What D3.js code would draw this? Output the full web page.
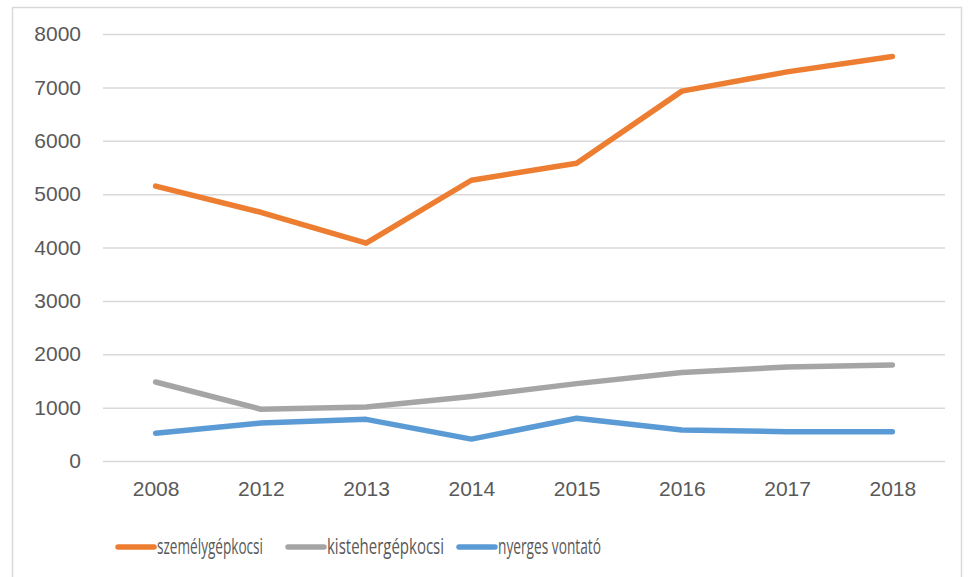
<!DOCTYPE html>
<html>
<head>
<meta charset="utf-8">
<script src="https://cdn.jsdelivr.net/npm/d3@7"></script>
<style>
  body { margin: 0; background: #fff; }
  svg { font-family: "Open Sans", "Liberation Sans", sans-serif; }
</style>
</head>
<body>
<svg width="971" height="577"></svg>
<script>
var years = ["2008", "2012", "2013", "2014", "2015", "2016", "2017", "2018"];
var szemely = [5150, 4660, 4080, 5260, 5580, 6930, 7290, 7580];
var kisteher = [1480, 970, 1010, 1210, 1450, 1660, 1760, 1800];
var nyerges = [520, 710, 780, 410, 800, 580, 550, 550];
var yTicks = [0, 1000, 2000, 3000, 4000, 5000, 6000, 7000, 8000];

var series = [
    {name: "személygépkocsi", values: szemely, color: "#ED7D31"},
    {name: "kistehergépkocsi", values: kisteher, color: "#A5A5A5"},
    {name: "nyerges vontató", values: nyerges, color: "#5B9BD5"}
];

var svg = d3.select("svg");

// frame
svg.append("rect")
    .attr("x", 12.5).attr("y", 7.5)
    .attr("width", 949).attr("height", 600)
    .attr("fill", "none")
    .attr("stroke", "#d9d9d9")
    .attr("stroke-width", 1.5);

var x = d3.scalePoint().domain(years).range([103, 945]).padding(0.5);
var y = d3.scaleLinear().domain([0, 8000]).range([461, 34]);

// gridlines
svg.append("g")
    .attr("transform", "translate(103,0)")
    .call(d3.axisLeft(y).tickValues(yTicks).tickSize(-842).tickFormat(""))
    .call(g => g.select(".domain").remove())
    .call(g => g.selectAll("line").attr("stroke", "#d9d9d9").attr("stroke-width", 1.5));

// y labels
svg.append("g")
    .attr("transform", "translate(103,0)")
    .call(d3.axisLeft(y).tickValues(yTicks).tickSize(0).tickPadding(22).tickFormat(d3.format("d")))
    .call(g => g.select(".domain").remove())
    .call(g => g.selectAll("text")
        .attr("fill", "#595959")
        .style("font-size", "21px"));

// x labels
svg.append("g")
    .attr("transform", "translate(0,461)")
    .call(d3.axisBottom(x).tickSize(0).tickPadding(20))
    .call(g => g.select(".domain").remove())
    .call(g => g.selectAll("text")
        .attr("fill", "#595959")
        .style("font-size", "21px"));

var line = d3.line()
    .x((d, i) => x(years[i]))
    .y(d => y(d));

svg.selectAll(".series")
    .data(series)
    .enter()
    .append("path")
    .attr("class", "series")
    .attr("d", d => line(d.values))
    .attr("fill", "none")
    .attr("stroke", d => d.color)
    .attr("stroke-width", 5.5)
    .attr("stroke-linecap", "round")
    .attr("stroke-linejoin", "round");

// legend
var legendX = [118, 288, 459];
var legendW = [106, 117, 103];
var lg = svg.selectAll(".legend")
    .data(series)
    .enter()
    .append("g")
    .attr("class", "legend")
    .attr("transform", (d, i) => "translate(" + legendX[i] + ",547)");

lg.append("line")
    .attr("x1", 0).attr("x2", 36)
    .attr("stroke", d => d.color)
    .attr("stroke-width", 5.5)
    .attr("stroke-linecap", "round");

lg.append("text")
    .attr("x", 39)
    .attr("dy", "0.33em")
    .attr("fill", "#595959")
    .style("font-size", "22px")
    .attr("textLength", (d, i) => legendW[i])
    .attr("lengthAdjust", "spacingAndGlyphs")
    .text(d => d.name);
</script>
</body>
</html>
